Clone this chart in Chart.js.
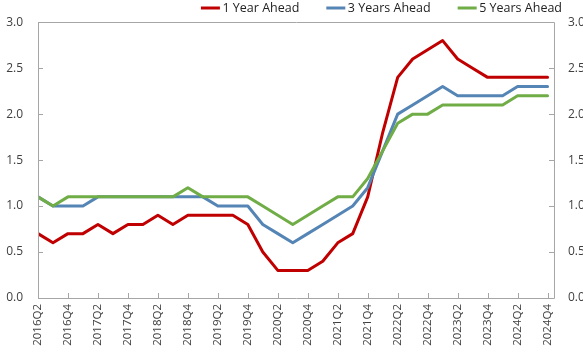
<!DOCTYPE html>
<html>
<head>
<meta charset="utf-8">
<script src="https://cdn.jsdelivr.net/npm/chart.js@4/dist/chart.umd.min.js"></script>
<style>
  html, body { margin: 0; padding: 0; background: #ffffff; overflow: hidden; }
  #wrap { width: 583px; height: 352px; overflow: hidden; }
  canvas { display: block; }
</style>
</head>
<body>
<div id="wrap"><canvas id="c" width="600" height="352"></canvas></div>
<script>
// Quarterly inflation expectations, percent
const quarters = [
  '2016Q2','2016Q3','2016Q4','2017Q1','2017Q2','2017Q3','2017Q4','2018Q1','2018Q2','2018Q3',
  '2018Q4','2019Q1','2019Q2','2019Q3','2019Q4','2020Q1','2020Q2','2020Q3','2020Q4','2021Q1',
  '2021Q2','2021Q3','2021Q4','2022Q1','2022Q2','2022Q3','2022Q4','2023Q1','2023Q2','2023Q3',
  '2023Q4','2024Q1','2024Q2','2024Q3','2024Q4'
];
const oneYearAhead = [
  0.7,0.6,0.7,0.7,0.8,0.7,0.8,0.8,0.9,0.8,
  0.9,0.9,0.9,0.9,0.8,0.5,0.3,0.3,0.3,0.4,
  0.6,0.7,1.1,1.8,2.4,2.6,2.7,2.8,2.6,2.5,
  2.4,2.4,2.4,2.4,2.4
];
const threeYearsAhead = [
  1.1,1.0,1.0,1.0,1.1,1.1,1.1,1.1,1.1,1.1,
  1.1,1.1,1.0,1.0,1.0,0.8,0.7,0.6,0.7,0.8,
  0.9,1.0,1.2,1.6,2.0,2.1,2.2,2.3,2.2,2.2,
  2.2,2.2,2.3,2.3,2.3
];
const fiveYearsAhead = [
  1.1,1.0,1.1,1.1,1.1,1.1,1.1,1.1,1.1,1.1,
  1.2,1.1,1.1,1.1,1.1,1.0,0.9,0.8,0.9,1.0,
  1.1,1.1,1.3,1.6,1.9,2.0,2.0,2.1,2.1,2.1,
  2.1,2.1,2.2,2.2,2.2
];
const yTicks = [0, 0.5, 1.0, 1.5, 2.0, 2.5, 3.0];

const RED = '#C00000', BLUE = '#5585B5', GREEN = '#70AD47';
const AXIS = '#A6A6A6', TEXT = '#404040';
const FONT = "'Open Sans', 'Noto Sans', sans-serif";

const toPoints = arr => arr.map((v, i) => ({ x: i, y: v }));

// Frame round the plot plus short tick marks pointing inward
const framePlugin = {
  id: 'frame',
  afterDatasetsDraw(chart) {
    const { ctx, chartArea: a, scales } = chart;
    ctx.save();
    ctx.strokeStyle = AXIS;
    ctx.lineWidth = 1;
    ctx.beginPath();
    ctx.rect(Math.round(a.left) + 0.5, Math.round(a.top) + 0.5,
             Math.round(a.right - a.left), Math.round(a.bottom - a.top));
    ctx.stroke();
    const L = 5;
    ctx.beginPath();
    scales.x.ticks.forEach(t => {
      const px = Math.round(scales.x.getPixelForValue(t.value)) + 0.5;
      ctx.moveTo(px, a.bottom);
      ctx.lineTo(px, a.bottom - L);
    });
    scales.y.ticks.forEach(t => {
      const py = Math.round(scales.y.getPixelForValue(t.value)) + 0.5;
      ctx.moveTo(a.left, py);
      ctx.lineTo(a.left + L, py);
      ctx.moveTo(a.right, py);
      ctx.lineTo(a.right - L, py);
    });
    ctx.stroke();
    ctx.restore();
  }
};

// Line-segment legend, right aligned above the plot
const legendPlugin = {
  id: 'lineLegend',
  afterDraw(chart) {
    const { ctx } = chart;
    const seg = 19, gapText = 2.5, gapItem = 27, rightEdge = 562, cy = 8;
    ctx.save();
    ctx.font = '12.5px ' + FONT;
    ctx.textBaseline = 'middle';
    ctx.textAlign = 'left';
    const items = chart.data.datasets.map(d => ({ label: d.label, color: d.borderColor,
      w: ctx.measureText(d.label).width }));
    let total = 0;
    items.forEach((it, i) => { total += seg + gapText + it.w + (i ? gapItem : 0); });
    let x = rightEdge - total;
    items.forEach((it, i) => {
      if (i) x += gapItem;
      ctx.strokeStyle = it.color;
      ctx.lineWidth = 3;
      ctx.beginPath();
      ctx.moveTo(x, cy);
      ctx.lineTo(x + seg, cy);
      ctx.stroke();
      x += seg + gapText;
      ctx.fillStyle = '#222222';
      ctx.fillText(it.label, x, cy + 0.5);
      x += it.w;
    });
    ctx.restore();
  }
};

const yTickOpts = (pad) => ({
  padding: pad,
  color: TEXT,
  font: { family: FONT, size: 12 },
  callback: v => Number(v).toFixed(1)
});

new Chart(document.getElementById('c'), {
  type: 'line',
  data: {
    datasets: [
      { label: '1 Year Ahead', data: toPoints(oneYearAhead), borderColor: RED, backgroundColor: RED, order: 2 },
      { label: '3 Years Ahead', data: toPoints(threeYearsAhead), borderColor: BLUE, backgroundColor: BLUE, order: 1 },
      { label: '5 Years Ahead', data: toPoints(fiveYearsAhead), borderColor: GREEN, backgroundColor: GREEN, order: 0 }
    ]
  },
  options: {
    responsive: false,
    animation: false,
    devicePixelRatio: 1,
    layout: { padding: { top: 17, left: 0, right: 0, bottom: 0 } },
    elements: {
      line: { borderWidth: 3, tension: 0, borderCapStyle: 'round', borderJoinStyle: 'round' },
      point: { radius: 0, hoverRadius: 0 }
    },
    plugins: { legend: { display: false }, tooltip: { enabled: false }, title: { display: false } },
    scales: {
      x: {
        type: 'linear',
        min: 0,
        max: 34.43,
        grid: { display: false, drawTicks: false },
        border: { display: false },
        ticks: {
          stepSize: 2,
          includeBounds: false,
          autoSkip: false,
          maxRotation: 90,
          minRotation: 90,
          padding: 6,
          color: TEXT,
          font: { family: FONT, size: 11.5 },
          callback: v => quarters[v] || ''
        },
        afterFit: s => { s.height = 54; }
      },
      y: {
        position: 'left',
        min: 0, max: 3,
        afterBuildTicks: s => { s.ticks = yTicks.map(v => ({ value: v })); },
        grid: { display: false, drawTicks: false },
        border: { display: false },
        ticks: yTickOpts(15),
        afterFit: s => { s.width = 38; }
      },
      y2: {
        position: 'right',
        min: 0, max: 3,
        afterBuildTicks: s => { s.ticks = yTicks.map(v => ({ value: v })); },
        grid: { display: false, drawTicks: false },
        border: { display: false },
        ticks: yTickOpts(14),
        afterFit: s => { s.width = 46; }
      }
    }
  },
  plugins: [framePlugin, legendPlugin]
});
</script>
</body>
</html>
